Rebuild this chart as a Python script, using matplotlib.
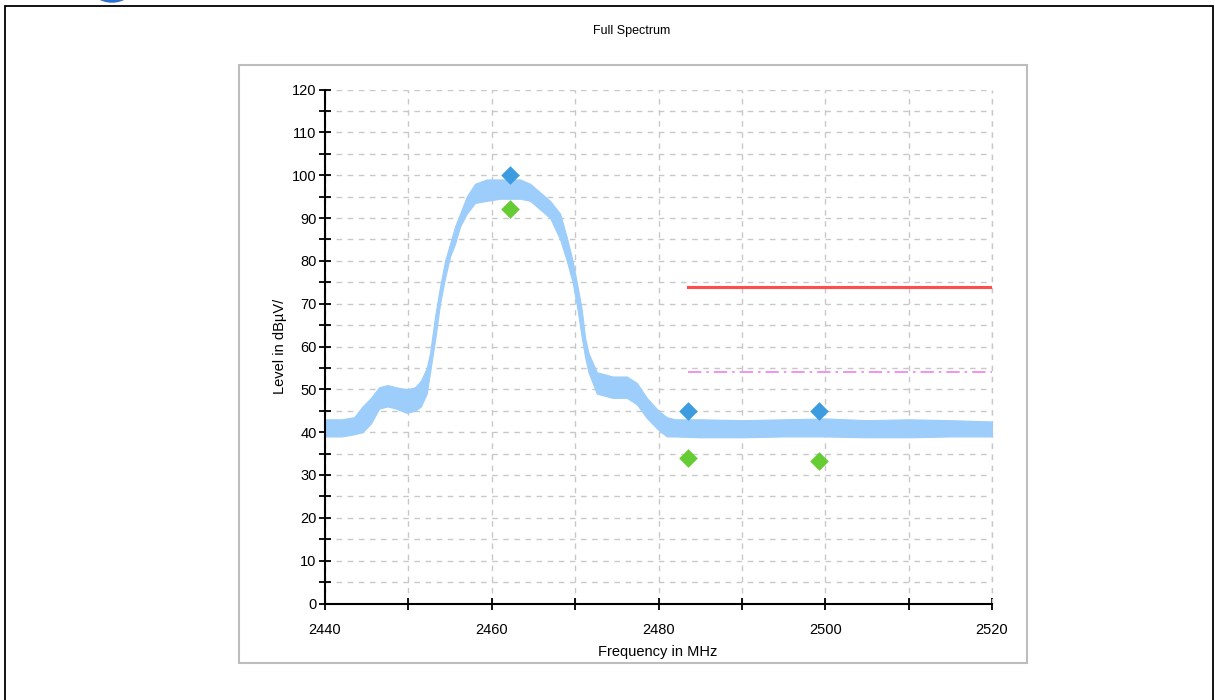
import matplotlib
matplotlib.use("Agg")
import matplotlib.pyplot as plt
from matplotlib.patches import Rectangle, Arc
from matplotlib.ticker import MultipleLocator

plt.rcParams['font.family'] = ['Liberation Sans', 'DejaVu Sans']

# spectrum trace envelope (MHz, lower / upper level in dBuV)
freq = [2440, 2442, 2443.5, 2444.5, 2445.5, 2446.5, 2447.5, 2448.5, 2449.8, 2450.8,
        2451.5, 2452.2, 2452.6, 2453.2, 2453.8, 2454.4, 2455, 2455.6, 2456.2, 2457,
        2458, 2459.4, 2461, 2463.4, 2464.6, 2465.8, 2467, 2468.2, 2469, 2469.7,
        2470.3, 2470.8, 2471.2, 2471.6, 2472.6, 2474.5, 2476.2, 2477.4, 2478.6, 2480,
        2481, 2482, 2485, 2490, 2495, 2500, 2505, 2510, 2515, 2520]
level_lo = [39, 39, 39.5, 40, 42, 45.5, 46, 45.5, 44.5, 45,
            46, 49, 54, 61.5, 70, 76, 81, 84, 88, 91,
            93.5, 94, 94.5, 94.5, 94, 92, 90, 85, 80, 75,
            68.5, 62, 57.5, 54, 49, 48, 48, 46.5, 43.3, 40.5,
            39, 39, 38.8, 38.8, 39, 39, 38.8, 38.8, 39, 39]
level_hi = [43, 43, 43.5, 46, 48, 50.5, 51, 50.5, 50, 50.5,
            52, 55, 58.5, 67, 74, 80, 84, 88, 91, 95,
            98, 99, 99, 99, 98, 96, 94, 91, 85.5, 80,
            74, 68.5, 62, 58.5, 54, 53, 53, 51.5, 48, 45,
            43.5, 43, 43, 42.8, 43, 43.2, 42.8, 43, 42.8, 42.5]

# peak / average markers
mark_freq = [2462.2, 2483.5, 2499.2]
peak_vals = [100, 45, 45]
avg_vals = [92.1, 34.0, 33.3]

# limit lines
limit_freq = [2483.5, 2520]
peak_limit = [74, 74]
avg_limit = [54, 54]

fig = plt.figure(figsize=(12.15, 7), dpi=100)
W, H = 1215, 700

# outer frame, chart box, bit of logo cut off at the top
fig.add_artist(Rectangle((5 / W, -0.01), (1213 - 5) / W, (H - 5.7) / H + 0.01,
                         transform=fig.transFigure, fill=False, ec='black', lw=1.3))
fig.add_artist(Rectangle((238.5 / W, 1 - 662.5 / H), (1027 - 238.5) / W, (662.5 - 65) / H,
                         transform=fig.transFigure, fill=False, ec='#bdbdbd', lw=1.5))
fig.add_artist(Arc((112 / W, 1 + 17 / H), 44 / W, 36 / H, theta1=235, theta2=305,
                   transform=fig.transFigure, color='#2f6fd0', lw=2.5))

ax = fig.add_axes([325 / W, 1 - 603.5 / H, (992 - 325) / W, (603.5 - 89.5) / H])

ax.fill_between(freq, level_lo, level_hi, color='#9dcdfb', lw=0.8, ec='#9dcdfb', zorder=3)
ax.plot(limit_freq, peak_limit, color='#ff4d4d', lw=2.2, zorder=4)
ax.plot(limit_freq, avg_limit, color='#ee82ee', lw=1.2, ls=(0, (8, 3, 1.5, 3)), zorder=4)
ax.scatter(mark_freq, peak_vals, marker='D', s=90, color='#3d9be0', zorder=5, lw=0)
ax.scatter(mark_freq, avg_vals, marker='D', s=90, color='#66cc33', zorder=5, lw=0)

ax.set_xlim(2440, 2520)
ax.set_ylim(0, 120)
ax.xaxis.set_major_locator(MultipleLocator(20))
ax.xaxis.set_minor_locator(MultipleLocator(10))
ax.yaxis.set_major_locator(MultipleLocator(10))
ax.yaxis.set_minor_locator(MultipleLocator(5))

ax.grid(which='both', color='#c8c8c8', ls=(0, (4, 4)), lw=1)
# gridline on the right edge gets clipped otherwise
ax.axvline(2520, color='#c8c8c8', ls=(0, (4, 4)), lw=1, clip_on=False, zorder=1)
ax.set_axisbelow(True)
for s in ['top', 'right']:
    ax.spines[s].set_visible(False)
for s in ['left', 'bottom']:
    ax.spines[s].set_linewidth(1.5)
    ax.spines[s].set_zorder(6)

ax.tick_params(axis='both', which='both', direction='inout', length=8, width=1.3, labelsize=10.5)
ax.tick_params(axis='x', which='major', pad=10)
ax.tick_params(axis='y', which='major', pad=2)

fig.text(632 / W, 1 - 31 / H, 'Full Spectrum', ha='center', va='center', fontsize=9)
fig.text(658 / W, 1 - 652 / H, 'Frequency in MHz', ha='center', va='center', fontsize=10.5)
fig.text(280 / W, 1 - 346 / H, 'Level in dBµV/', ha='center', va='center', rotation=90,
         fontsize=10.5)

fig.savefig('out.png', dpi=100)
